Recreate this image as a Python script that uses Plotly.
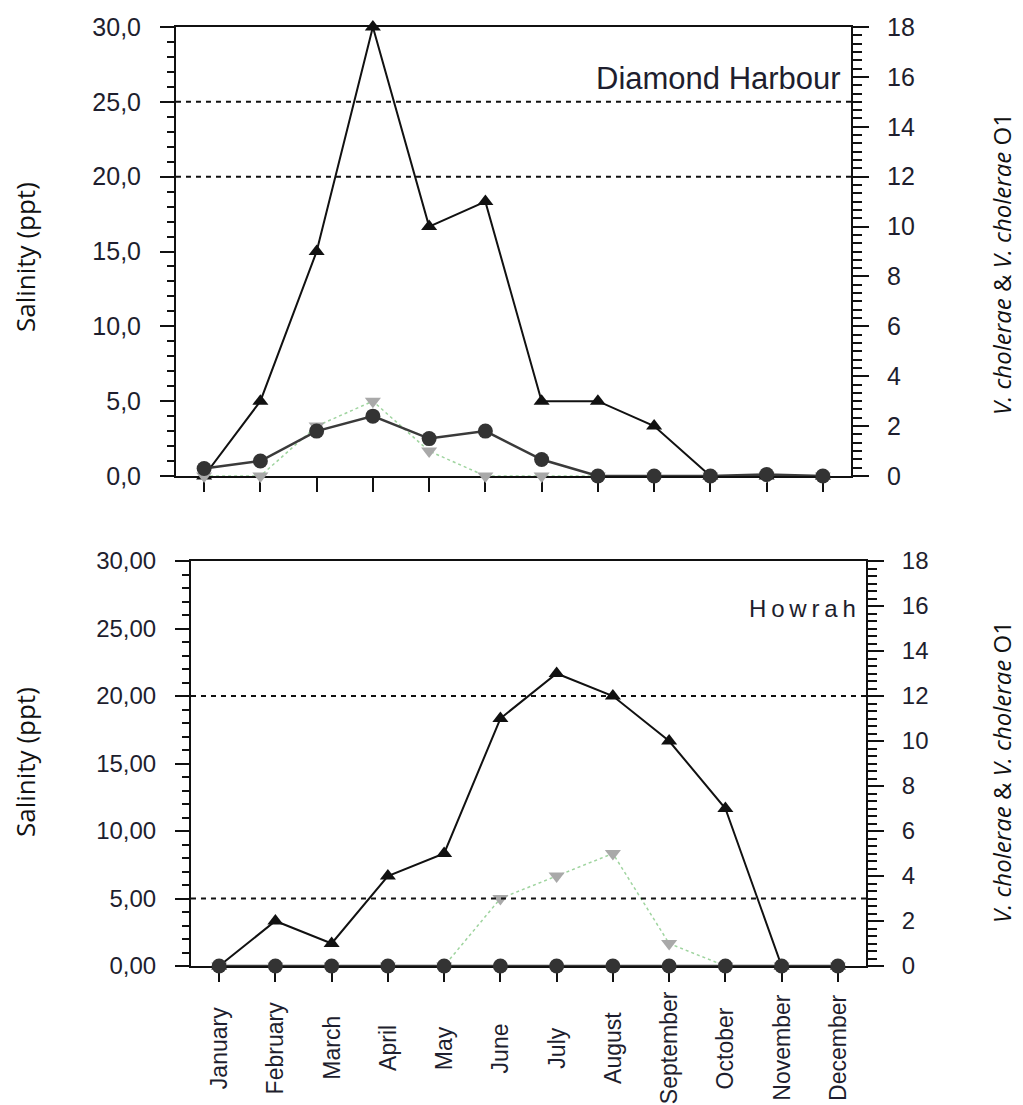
import plotly.graph_objects as go

W, H = 1023, 1105
OFF = 8  # page body margin

months = ["January", "February", "March", "April", "May", "June",
          "July", "August", "September", "October", "November", "December"]

# Diamond Harbour
dh_salinity = [0.5, 1.0, 3.0, 4.0, 2.5, 3.0, 1.1, 0.0, 0.0, 0.0, 0.1, 0.0]
dh_vc = [0, 3, 9, 18, 10, 11, 3, 3, 2, 0, 0, 0]
dh_vc_o1 = [0, 0, 2, 3, 1, 0, 0, 0, 0, 0, 0, 0]
dh_ref_lines = [25, 20]

# Howrah
hw_salinity = [0.0, 0.0, 0.0, 0.0, 0.0, 0.0, 0.0, 0.0, 0.0, 0.0, 0.0, 0.0]
hw_vc = [0, 2, 1, 4, 5, 11, 13, 12, 10, 7, 0, 0]
hw_vc_o1 = [0, 0, 0, 0, 0, 3, 4, 5, 1, 0, 0, 0]
hw_ref_lines = [20, 5]

sal_tickvals = [0, 5, 10, 15, 20, 25, 30]
sal_ticktext_dh = ["0,0", "5,0", "10,0", "15,0", "20,0", "25,0", "30,0"]
sal_ticktext_hw = ["0,00", "5,00", "10,00", "15,00", "20,00", "25,00", "30,00"]
count_tickvals = [0, 2, 4, 6, 8, 10, 12, 14, 16, 18]


def fx(p):
    return (p - OFF) / W


def fy(p):
    return 1 - (p - OFF) / H


AX = "#111111"
TXT = "#1e1e2e"
SANS = "Liberation Sans, Arial"

fig = go.Figure()


def add_panel(xa, ya_right, ya_left, vc, vco1, sal):
    fig.add_trace(go.Scatter(
        x=months, y=vc, xaxis=xa, yaxis=ya_right, mode="lines+markers",
        line=dict(color="#111111", width=2),
        marker=dict(symbol="triangle-up", size=14, color="#111111"),
        cliponaxis=False, showlegend=False))
    fig.add_trace(go.Scatter(
        x=months, y=vco1, xaxis=xa, yaxis=ya_right, mode="lines+markers",
        line=dict(color="#9fd49f", width=1.5, dash="dot"),
        marker=dict(symbol="triangle-down", size=14, color="#a9a9a9"),
        cliponaxis=False, showlegend=False))
    fig.add_trace(go.Scatter(
        x=months, y=sal, xaxis=xa, yaxis=ya_left, mode="lines+markers",
        line=dict(color="#3a3a3a", width=2.5),
        marker=dict(symbol="circle", size=15, color="#333333"),
        cliponaxis=False, showlegend=False))


add_panel("x", "y", "y2", dh_vc, dh_vc_o1, dh_salinity)
add_panel("x2", "y3", "y4", hw_vc, hw_vc_o1, hw_salinity)

top_x = [fx(176), fx(851)]
top_y = [fy(476), fy(27)]
bot_x = [fx(191), fx(866)]
bot_y = [fy(966), fy(561)]


def xaxis_cfg(dom, anchor):
    return dict(domain=dom, anchor=anchor, type="category", range=[-0.5, 11.5],
                showline=True, mirror=True, linecolor=AX, linewidth=2,
                ticks="outside", ticklen=14, tickwidth=2, tickcolor=AX,
                showticklabels=False, showgrid=False, zeroline=False,
                layer="below traces", automargin=False)


def right_cfg(dom, anchor, fs):
    return dict(domain=dom, anchor=anchor, side="right", range=[0, 18],
                tickmode="array", tickvals=count_tickvals,
                showline=True, linecolor=AX, linewidth=2,
                ticks="outside", ticklen=16, tickwidth=2, tickcolor=AX,
                minor=dict(ticks="outside", ticklen=9, tickwidth=2, tickcolor=AX,
                           tickmode="linear", tick0=0, dtick=1 / 3),
                ticklabelstandoff=13, automargin=False,
                tickfont=dict(family=SANS, size=fs, color=TXT),
                showgrid=False, zeroline=False)


def left_cfg(anchor, overlay, ticktext, fs):
    return dict(anchor=anchor, overlaying=overlay, side="left", range=[0, 30],
                tickmode="array", tickvals=sal_tickvals, ticktext=ticktext,
                showline=True, linecolor=AX, linewidth=2,
                ticks="outside", ticklen=14, tickwidth=2, tickcolor=AX,
                minor=dict(ticks="outside", ticklen=7, tickwidth=2, tickcolor=AX,
                           tickmode="linear", tick0=0, dtick=1),
                ticklabelstandoff=14, automargin=False,
                tickfont=dict(family=SANS, size=fs, color=TXT),
                showgrid=False, zeroline=False)


fig.update_layout(
    width=W, height=H,
    margin=dict(l=0, r=0, t=0, b=0, pad=0, autoexpand=False),
    paper_bgcolor="white", plot_bgcolor="white",
    xaxis=xaxis_cfg(top_x, "y"),
    yaxis=right_cfg(top_y, "x", 25),
    yaxis2=left_cfg("x", "y", sal_ticktext_dh, 25),
    xaxis2=xaxis_cfg(bot_x, "y3"),
    yaxis3=right_cfg(bot_y, "x2", 24),
    yaxis4=left_cfg("x2", "y3", sal_ticktext_hw, 24),
)

# reference dashed lines
for v in dh_ref_lines:
    fig.add_shape(type="line", xref="x domain", x0=0, x1=1, yref="y2", y0=v, y1=v,
                  line=dict(color=AX, width=2, dash="5px,5px"))
for v in hw_ref_lines:
    fig.add_shape(type="line", xref="x2 domain", x0=0, x1=1, yref="y4", y0=v, y1=v,
                  line=dict(color=AX, width=2, dash="5px,5px"))

# station names
fig.add_annotation(text="Diamond Harbour", xref="paper", yref="paper",
                   x=fx(843), y=fy(78), xanchor="right", yanchor="middle",
                   showarrow=False, font=dict(family=SANS, size=31, color=TXT))
fig.add_annotation(text="H\u2009o\u2009w\u2009r\u2009a\u2009h", xref="paper", yref="paper",
                   x=fx(858), y=fy(608), xanchor="right", yanchor="middle",
                   showarrow=False, font=dict(family=SANS, size=24, color=TXT))

# month labels (centered, rotated)
for m in months:
    fig.add_annotation(text=m, xref="x2", x=m, yref="paper", y=fy(1048),
                       textangle=-90, showarrow=False, xanchor="center", yanchor="middle",
                       font=dict(family=SANS, size=23, color=TXT))

# axis titles
right_title = "<i>V. cholerae</i> &amp; <i>V. cholerae</i> O1"
for cy_l, cy_r in [(257, 264), (762, 772)]:
    fig.add_annotation(text="Salinity (ppt)", xref="paper", yref="paper",
                       x=fx(25), y=fy(cy_l), textangle=-90, showarrow=False,
                       xanchor="center", yanchor="middle",
                       font=dict(family="Open Sans, Noto Sans", size=26, color="#111111"))
    fig.add_annotation(text=right_title, xref="paper", yref="paper",
                       x=fx(1001), y=fy(cy_r), textangle=-90, showarrow=False,
                       xanchor="center", yanchor="middle",
                       font=dict(family="Open Sans, Noto Sans", size=24, color="#111111"))

fig.write_html("out.html")
